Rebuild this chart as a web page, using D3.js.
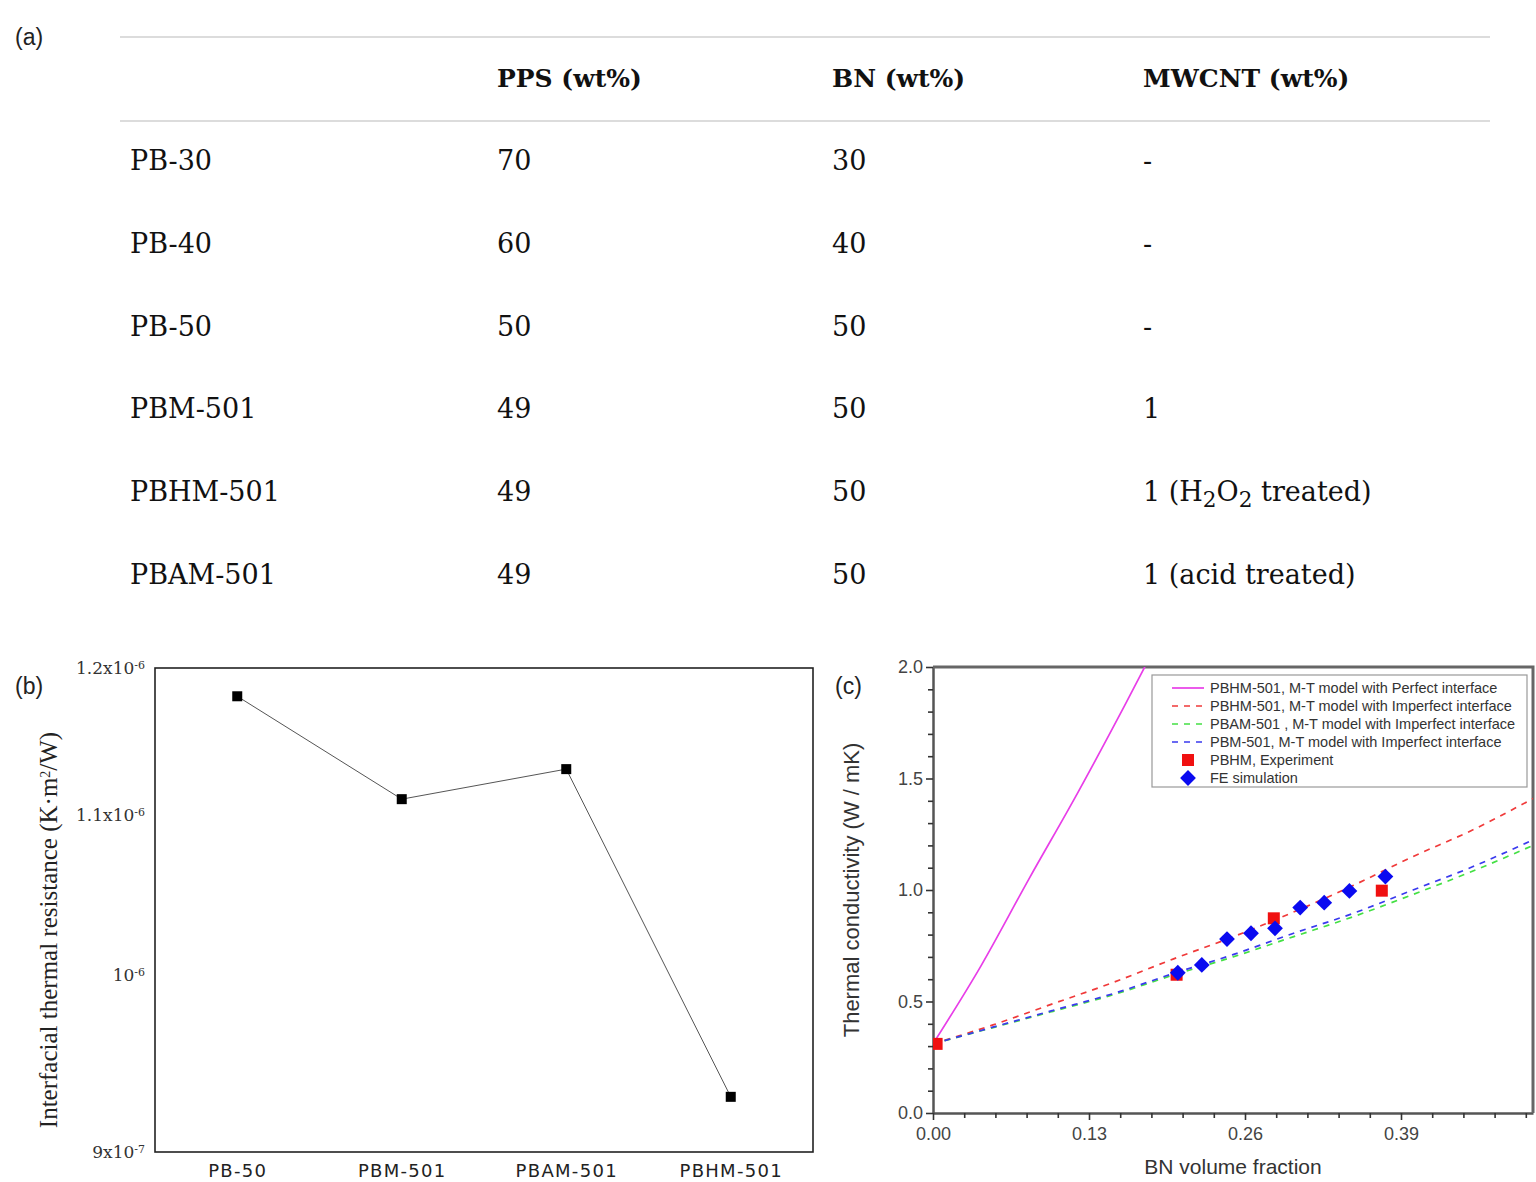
<!DOCTYPE html>
<html>
<head>
<meta charset="utf-8">
<script src="https://cdn.jsdelivr.net/npm/d3@7"></script>
<style>
  html, body { margin: 0; padding: 0; background: #fff; }
  svg { display: block; }
</style>
</head>
<body>
<svg id="fig" width="1536" height="1182"></svg>
<script>
// ---------------- DATA ----------------
// (a) composition table
const tableHeader = ["", "PPS (wt%)", "BN (wt%)", "MWCNT (wt%)"];
const sampleNames = ["PB-30", "PB-40", "PB-50", "PBM-501", "PBHM-501", "PBAM-501"];
const ppsWt = ["70", "60", "50", "49", "49", "49"];
const bnWt = ["30", "40", "50", "50", "50", "50"];
const mwcntWt = ["-", "-", "-", "1", "1 (H_2O_2 treated)", "1 (acid treated)"];

// (b) interfacial thermal resistance
const resCategories = ["PB-50", "PBM-501", "PBAM-501", "PBHM-501"];
const resValues = [1.18e-6, 1.11e-6, 1.13e-6, 9.30e-7];
const resTickValues = [9e-7, 1e-6, 1.1e-6, 1.2e-6];
const resTickBase = ["9x10", "10", "1.1x10", "1.2x10"];
const resTickExp = ["-7", "-6", "-6", "-6"];

// (c) thermal conductivity vs BN volume fraction
const modelX = [0, 0.05, 0.1, 0.15, 0.2, 0.25, 0.3, 0.35, 0.4, 0.45, 0.5];
const perfectX = [0, 0.04, 0.08, 0.12, 0.16, 0.19];
const perfectK = [0.31, 0.66, 1.05, 1.43, 1.83, 2.14];
const pbhmImperfectK = [0.31, 0.395, 0.49, 0.585, 0.69, 0.79, 0.90, 1.02, 1.15, 1.27, 1.41];
const pbamImperfectK = [0.31, 0.383, 0.456, 0.53, 0.618, 0.70, 0.79, 0.88, 0.98, 1.085, 1.20];
const pbmImperfectK = [0.31, 0.385, 0.46, 0.535, 0.625, 0.71, 0.805, 0.895, 1.0, 1.105, 1.225];
const expX = [0.003, 0.203, 0.284, 0.374];
const expK = [0.31, 0.62, 0.873, 0.997];
const feX = [0.204, 0.224, 0.245, 0.265, 0.285, 0.306, 0.326, 0.347, 0.377];
const feK = [0.629, 0.664, 0.78, 0.806, 0.828, 0.921, 0.943, 0.996, 1.06];
const legendLabels = [
  "PBHM-501, M-T model with Perfect interface",
  "PBHM-501, M-T model with Imperfect interface",
  "PBAM-501 , M-T model with Imperfect interface",
  "PBM-501, M-T model with Imperfect interface",
  "PBHM, Experiment",
  "FE simulation"
];
const xTickLabelsC = ["0.00", "0.13", "0.26", "0.39"];
const yTickLabelsC = ["0.0", "0.5", "1.0", "1.5", "2.0"];

// ---------------- DRAW ----------------
const svg = d3.select("#fig");
const serif = "'DejaVu Serif', 'Liberation Serif', serif";
const sans = "'Liberation Sans', Arial, sans-serif";

// ===== (a) table =====
svg.append("text").attr("x", 15).attr("y", 45).attr("font-family", sans)
  .attr("font-size", 23).attr("fill", "#222").text("(a)");
[37, 121].forEach(y => svg.append("line").attr("x1", 120).attr("x2", 1490)
  .attr("y1", y).attr("y2", y).attr("stroke", "#dcdcdc").attr("stroke-width", 2));

const colX = [130, 497, 832, 1143];
const rowY = d3.scalePoint().domain(d3.range(sampleNames.length)).range([170, 584]);

function richText(sel, str) {
  const parts = str.split(/(_\d)/);
  parts.forEach(p => {
    if (p.startsWith("_")) {
      sel.append("tspan").attr("baseline-shift", "-25%").attr("font-size", "0.8em").text(p.slice(1));
    } else if (p.length) {
      sel.append("tspan").text(p);
    }
  });
}

tableHeader.forEach((h, i) => {
  if (!h) return;
  svg.append("text").attr("x", colX[i]).attr("y", 87).attr("font-family", serif)
    .attr("font-size", 25).attr("font-weight", "bold").attr("fill", "#111").text(h);
});
const tableRows = sampleNames.map((s, i) => [s, ppsWt[i], bnWt[i], mwcntWt[i]]);
tableRows.forEach((row, r) => {
  row.forEach((cell, c) => {
    const t = svg.append("text").attr("x", colX[c]).attr("y", rowY(r))
      .attr("font-family", serif).attr("font-size", 27).attr("fill", "#111");
    richText(t, cell);
  });
});

// ===== (b) resistance =====
const bL = 155, bR = 813, bT = 668, bB = 1152;
const xB = d3.scalePoint().domain(resCategories).range([bL, bR]).padding(0.5);
const yB = d3.scaleLog().domain([9e-7, 1.2e-6]).range([bB, bT]);

svg.append("text").attr("x", 15).attr("y", 694).attr("font-family", sans)
  .attr("font-size", 23).attr("fill", "#222").text("(b)");

const gBy = svg.append("g").attr("transform", `translate(${bL},0)`)
  .call(d3.axisLeft(yB).tickValues(resTickValues).tickSize(0).tickPadding(10).tickFormat(""));
gBy.select(".domain").remove();
gBy.selectAll(".tick text").each(function(d, i) {
  const t = d3.select(this).attr("font-family", serif).attr("font-size", 17)
    .attr("fill", "#333").attr("dy", "0.35em").attr("x", -10).text(null);
  t.append("tspan").text(resTickBase[i]);
  t.append("tspan").attr("baseline-shift", "45%").attr("font-size", 11).text(resTickExp[i]);
});

const gBx = svg.append("g").attr("transform", `translate(0,${bB})`)
  .call(d3.axisBottom(xB).tickSize(0).tickPadding(12));
gBx.select(".domain").remove();
gBx.selectAll(".tick text").attr("font-family", "'DejaVu Sans', Verdana, sans-serif")
  .attr("font-size", 18).attr("letter-spacing", 1.3).attr("fill", "#222");

svg.append("rect").attr("x", bL).attr("y", bT).attr("width", bR - bL).attr("height", bB - bT)
  .attr("fill", "none").attr("stroke", "#222").attr("stroke-width", 1.6);

svg.append("text")
  .attr("transform", `translate(57,${(bT + bB) / 2 + 20}) rotate(-90)`)
  .attr("text-anchor", "middle").attr("font-family", "'Liberation Serif', serif")
  .attr("font-size", 25).attr("fill", "#222")
  .call(t => {
    t.append("tspan").text("Interfacial thermal resistance (K·m");
    t.append("tspan").attr("baseline-shift", "super").attr("font-size", 14).text("2");
    t.append("tspan").text("/W)");
  });

const resData = resCategories.map((c, i) => ({ c, v: resValues[i] }));
svg.append("path").datum(resData)
  .attr("d", d3.line().x(d => xB(d.c)).y(d => yB(d.v)))
  .attr("fill", "none").attr("stroke", "#555").attr("stroke-width", 1);
svg.selectAll(".resPt").data(resData).enter().append("rect")
  .attr("x", d => xB(d.c) - 5).attr("y", d => yB(d.v) - 5)
  .attr("width", 10).attr("height", 10).attr("fill", "#000");

// ===== (c) conductivity =====
const cL = 933, cR = 1533, cT = 667, cB = 1113;
const xC = d3.scaleLinear().domain([0, 0.5]).range([cL, cR]);
const yC = d3.scaleLinear().domain([0, 2]).range([cB, cT]);
const axisGrey = "#555";

svg.append("text").attr("x", 835).attr("y", 694).attr("font-family", sans)
  .attr("font-size", 23).attr("fill", "#222").text("(c)");

svg.append("defs").append("clipPath").attr("id", "clipC")
  .append("rect").attr("x", cL).attr("y", cT).attr("width", cR - cL).attr("height", cB - cT);

// y axis
const yTicks = d3.range(0, 21).map(i => i / 10);
const gCy = svg.append("g").attr("transform", `translate(${cL},0)`)
  .call(d3.axisLeft(yC).tickValues(yTicks).tickSizeOuter(0)
    .tickFormat((d, i) => (i % 5 === 0 ? yTickLabelsC[i / 5] : "")));
gCy.select(".domain").attr("stroke", axisGrey).attr("stroke-width", 2.5);
gCy.selectAll(".tick line").attr("stroke", "#333").attr("stroke-width", 1.6)
  .attr("x2", (d, i) => (i % 5 === 0 ? -7 : -5));
gCy.selectAll(".tick text").attr("font-family", sans).attr("font-size", 18).attr("fill", "#444").attr("x", -10);

// x axis
const xTicks = d3.range(0, 20).map(i => +(i * 0.026).toFixed(3));
const gCx = svg.append("g").attr("transform", `translate(0,${cB})`)
  .call(d3.axisBottom(xC).tickValues(xTicks).tickSizeOuter(0)
    .tickFormat((d, i) => (i % 5 === 0 ? xTickLabelsC[i / 5] : "")));
gCx.select(".domain").attr("stroke", axisGrey).attr("stroke-width", 2.5);
gCx.selectAll(".tick line").attr("stroke", "#333").attr("stroke-width", 1.6)
  .attr("y2", (d, i) => (i % 5 === 0 ? 7 : 5));
gCx.selectAll(".tick text").attr("font-family", sans).attr("font-size", 18).attr("fill", "#444").attr("y", 14);

// top & right frame
svg.append("path").attr("d", `M${cL},${cT}H${cR}V${cB}`).attr("fill", "none")
  .attr("stroke", "#666").attr("stroke-width", 3);

// axis titles
svg.append("text").attr("x", (cL + cR) / 2).attr("y", 1174).attr("text-anchor", "middle")
  .attr("font-family", sans).attr("font-size", 21).attr("fill", "#333").text("BN volume fraction");
svg.append("text").attr("transform", `translate(859,${(cT + cB) / 2}) rotate(-90)`)
  .attr("text-anchor", "middle").attr("font-family", sans).attr("font-size", 22)
  .attr("fill", "#333").text("Thermal conductivity (W / mK)");

const plotC = svg.append("g").attr("clip-path", "url(#clipC)");
const lineC = d3.line().x(d => xC(d[0])).y(d => yC(d[1])).curve(d3.curveMonotoneX);

const series = [
  { x: perfectX, y: perfectK, color: "#e83ee8", dash: null },
  { x: modelX, y: pbhmImperfectK, color: "#f03a3a", dash: "6,6" },
  { x: modelX, y: pbamImperfectK, color: "#44e044", dash: "6,6" },
  { x: modelX, y: pbmImperfectK, color: "#3a3aee", dash: "6,6" }
];
series.forEach(s => {
  plotC.append("path").datum(s.x.map((x, i) => [x, s.y[i]]))
    .attr("d", lineC).attr("fill", "none").attr("stroke", s.color)
    .attr("stroke-width", 1.7).attr("stroke-dasharray", s.dash);
});

const diamond = d3.symbol().type(d3.symbolSquare).size(125);
plotC.selectAll(".exp").data(expX.map((x, i) => [x, expK[i]])).enter().append("rect")
  .attr("x", d => xC(d[0]) - 6).attr("y", d => yC(d[1]) - 6)
  .attr("width", 12).attr("height", 12).attr("fill", "#f01010");
svg.selectAll(".fe").data(feX.map((x, i) => [x, feK[i]])).enter().append("path")
  .attr("d", diamond).attr("transform", d => `translate(${xC(d[0])},${yC(d[1])}) rotate(45)`)
  .attr("fill", "#0a0af0");

// legend
const lg = svg.append("g");
lg.append("rect").attr("x", 1152).attr("y", 675).attr("width", 375).attr("height", 112)
  .attr("fill", "#fff").attr("stroke", "#999").attr("stroke-width", 1.2);
const legY = d3.scalePoint().domain(d3.range(6)).range([688, 778]);
legendLabels.forEach((lab, i) => {
  const y = legY(i);
  if (i < 4) {
    lg.append("line").attr("x1", 1172).attr("x2", 1204).attr("y1", y).attr("y2", y)
      .attr("stroke", series[i].color).attr("stroke-width", 1.7)
      .attr("stroke-dasharray", series[i].dash);
  } else if (i === 4) {
    lg.append("rect").attr("x", 1182).attr("y", y - 6).attr("width", 12).attr("height", 12).attr("fill", "#f01010");
  } else {
    lg.append("path").attr("d", diamond).attr("transform", `translate(1188,${y}) rotate(45)`).attr("fill", "#0a0af0");
  }
  lg.append("text").attr("x", 1210).attr("y", y).attr("dy", "0.35em")
    .attr("font-family", sans).attr("font-size", 14.5).attr("fill", "#333").text(lab);
});
</script>
</body>
</html>
